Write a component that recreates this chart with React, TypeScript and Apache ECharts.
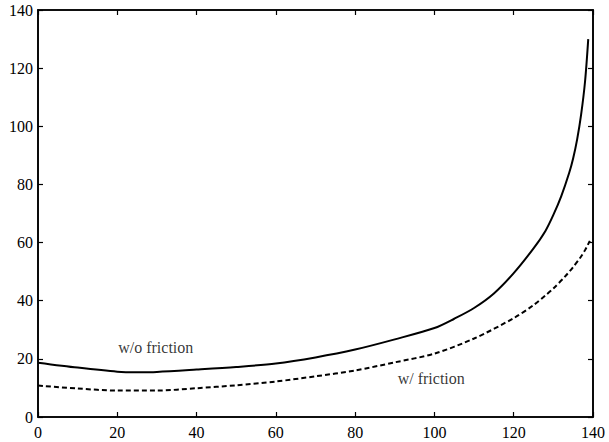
import React, { useEffect, useRef } from "react";
import * as echarts from "echarts";

const solidX = [0, 10, 20, 25, 30, 40, 50, 60, 70, 80, 90, 100, 105, 110, 115, 120, 125, 128, 130, 132, 134, 135, 136, 137, 138, 138.8];
const solidY = [18.7, 17.0, 15.6, 15.4, 15.5, 16.3, 17.2, 18.4, 20.5, 23.2, 26.7, 30.6, 33.8, 37.5, 42.5, 49.5, 58, 64, 69.5, 76, 84, 89, 95.5, 104, 115.5, 130];
const dashX = [0, 10, 20, 30, 40, 50, 60, 70, 80, 90, 100, 110, 120, 125, 128, 130, 133, 135, 137, 138, 139.2];
const dashY = [10.8, 9.8, 9.1, 9.1, 9.9, 10.9, 12.2, 14, 16, 18.8, 21.8, 27, 34, 38.5, 41.8, 44.2, 48.4, 51.6, 55.2, 57.4, 60.6];
const labelNames = ["w/o friction", "w/ friction"];
const labelPos = [[29.7, 24], [99.2, 13.1]];

const FONT = "'Liberation Serif', 'Times New Roman', serif";
const W = 609;
const H = 442;
const G = { left: 38, right: 16, top: 10, bottom: 25 };

function makeAxis(position: string, labelColor: string, margin: number) {
  return {
    type: "value",
    position,
    min: 0,
    max: 140,
    interval: 20,
    splitLine: { show: false },
    axisLine: { show: true, onZero: false, lineStyle: { color: "#000", width: 1.6 } },
    axisTick: { show: true, inside: true, length: 5, lineStyle: { color: "#000", width: 1.2 } },
    axisLabel: { show: true, color: labelColor, fontFamily: FONT, fontSize: 16, margin },
  };
}

export default function App() {
  const ref = useRef<HTMLDivElement>(null);
  useEffect(() => {
    if (!ref.current) return;
    const chart = echarts.init(ref.current, null, { renderer: "svg" });
    chart.setOption({
      animation: false,
      backgroundColor: "#fff",
      grid: { ...G, outerBoundsMode: "none", containLabel: false },
      xAxis: [makeAxis("bottom", "#000", 7), makeAxis("top", "rgba(0,0,0,0)", 8)],
      yAxis: [makeAxis("left", "#000", 5), makeAxis("right", "rgba(0,0,0,0)", 5)],
      graphic: [
        {
          type: "rect",
          shape: { x: G.left, y: G.top, width: W - G.left - G.right, height: H - G.top - G.bottom },
          style: { fill: "rgba(0,0,0,0)", stroke: "#000", lineWidth: 1.6 },
          silent: true,
          z: 100,
        },
      ],
      series: [
        {
          type: "line",
          data: solidX.map((x, i) => [x, solidY[i]]),
          smooth: 0.3,
          showSymbol: false,
          lineStyle: { color: "#000", width: 2 },
        },
        {
          type: "line",
          data: dashX.map((x, i) => [x, dashY[i]]),
          smooth: 0.3,
          showSymbol: false,
          lineStyle: { color: "#000", width: 2, type: [5, 3] },
        },
        {
          type: "scatter",
          symbolSize: 0,
          data: labelNames.map((n, i) => ({ name: n, value: labelPos[i] })),
          label: {
            show: true,
            position: "inside",
            formatter: (p: any) => p.name,
            color: "#000",
            fontFamily: FONT,
            fontSize: 16,
          },
        },
      ],
    });
    return () => chart.dispose();
  }, []);
  return <div ref={ref} style={{ position: "fixed", left: 0, top: 0, width: W, height: H }} />;
}
